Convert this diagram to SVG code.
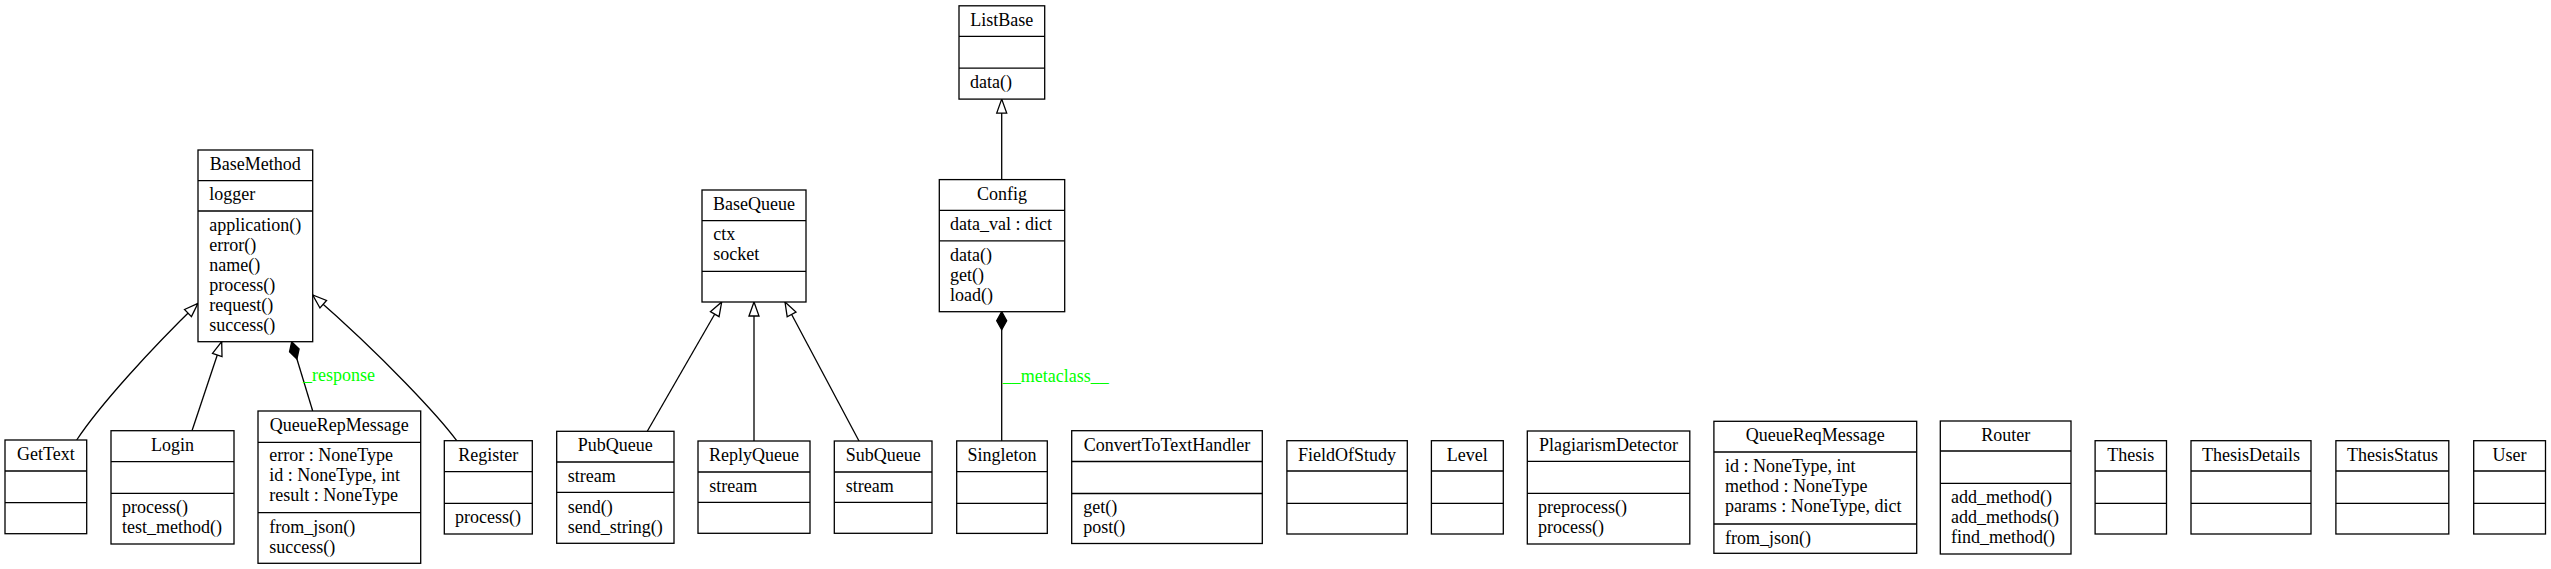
<svg xmlns="http://www.w3.org/2000/svg" width="2551" height="569" viewBox="0 0 2551 569">
<style>
rect.box{fill:#fff;stroke:#000;stroke-width:1.3}
line.sep{stroke:#000;stroke-width:1.3}
text{font-family:"Liberation Serif","Times New Roman",serif;font-size:18px;fill:#000}
text.t{text-anchor:middle}
text.lbl{fill:#00ff00}
.edge{fill:none;stroke:#000;stroke-width:1.3}
</style>
<defs>
<marker id="inh" markerUnits="userSpaceOnUse" markerWidth="16" markerHeight="12" refX="14" refY="5" orient="auto" overflow="visible">
<path d="M0,0 L14,5 L0,10 z" fill="#fff" stroke="#000" stroke-width="1.3"/>
</marker>
<marker id="comp" markerUnits="userSpaceOnUse" markerWidth="20" markerHeight="12" refX="18" refY="5" orient="auto" overflow="visible">
<path d="M0,5 L9,0 L18,5 L9,10 z" fill="#000" stroke="#000" stroke-width="1.3"/>
</marker>
</defs>
<rect width="2551" height="569" fill="#fff"/>
<g id="connectors">
<path class="edge" d="M76.7,440 C100,405 150,350 198,303.3" marker-end="url(#inh)"/>
<path class="edge" d="M192,430.7 L221.7,341.7" marker-end="url(#inh)"/>
<path class="edge" d="M312.7,411 L291.7,341.7" marker-end="url(#comp)"/>
<path class="edge" d="M456.7,440.7 C440,418 385,358 312.7,295" marker-end="url(#inh)"/>
<path class="edge" d="M647.3,431.3 L721.7,302" marker-end="url(#inh)"/>
<path class="edge" d="M754,441 L754,302" marker-end="url(#inh)"/>
<path class="edge" d="M859,441 L785,302" marker-end="url(#inh)"/>
<path class="edge" d="M1001.7,179.6 L1001.7,99.1" marker-end="url(#inh)"/>
<path class="edge" d="M1001.7,440.9 L1001.7,311.7" marker-end="url(#comp)"/>
<text class="lbl" x="303" y="380.7">_response</text>
<text class="lbl" x="1002.7" y="381.7">__metaclass__</text>
</g>
<g id="BaseMethod">
<rect class="box" x="198" y="150" width="114.7" height="191.7"/>
<line class="sep" x1="198" y1="180.7" x2="312.7" y2="180.7"/>
<line class="sep" x1="198" y1="211" x2="312.7" y2="211"/>
<text class="t" x="255.3" y="170">BaseMethod</text>
<text x="209.3" y="200">logger</text>
<text x="209.3" y="231">application()</text>
<text x="209.3" y="251">error()</text>
<text x="209.3" y="271">name()</text>
<text x="209.3" y="291">process()</text>
<text x="209.3" y="311">request()</text>
<text x="209.3" y="331">success()</text>
</g>
<g id="GetText">
<rect class="box" x="5" y="440" width="81.7" height="93.7"/>
<line class="sep" x1="5" y1="471" x2="86.7" y2="471"/>
<line class="sep" x1="5" y1="502.7" x2="86.7" y2="502.7"/>
<text class="t" x="45.8" y="460">GetText</text>
</g>
<g id="Login">
<rect class="box" x="111" y="430.7" width="123" height="113.3"/>
<line class="sep" x1="111" y1="461.7" x2="234" y2="461.7"/>
<line class="sep" x1="111" y1="493.3" x2="234" y2="493.3"/>
<text class="t" x="172.5" y="450.7">Login</text>
<text x="122" y="513">process()</text>
<text x="122" y="533">test_method()</text>
</g>
<g id="QueueRepMessage">
<rect class="box" x="258" y="411" width="162.7" height="152.3"/>
<line class="sep" x1="258" y1="442.3" x2="420.7" y2="442.3"/>
<line class="sep" x1="258" y1="512.7" x2="420.7" y2="512.7"/>
<text class="t" x="339.3" y="431">QueueRepMessage</text>
<text x="269.3" y="461">error : NoneType</text>
<text x="269.3" y="481">id : NoneType, int</text>
<text x="269.3" y="501">result : NoneType</text>
<text x="269.3" y="533">from_json()</text>
<text x="269.3" y="553">success()</text>
</g>
<g id="Register">
<rect class="box" x="444.3" y="440.7" width="88" height="93.3"/>
<line class="sep" x1="444.3" y1="471.7" x2="532.3" y2="471.7"/>
<line class="sep" x1="444.3" y1="503.3" x2="532.3" y2="503.3"/>
<text class="t" x="488.3" y="460.7">Register</text>
<text x="455" y="523">process()</text>
</g>
<g id="BaseQueue">
<rect class="box" x="702" y="190" width="104" height="112"/>
<line class="sep" x1="702" y1="220.7" x2="806" y2="220.7"/>
<line class="sep" x1="702" y1="271.3" x2="806" y2="271.3"/>
<text class="t" x="754" y="210">BaseQueue</text>
<text x="713.3" y="240">ctx</text>
<text x="713.3" y="260">socket</text>
</g>
<g id="PubQueue">
<rect class="box" x="556.7" y="431.3" width="117.3" height="112"/>
<line class="sep" x1="556.7" y1="462" x2="674" y2="462"/>
<line class="sep" x1="556.7" y1="492.3" x2="674" y2="492.3"/>
<text class="t" x="615.3" y="451.3">PubQueue</text>
<text x="567.7" y="482">stream</text>
<text x="567.7" y="512.5">send()</text>
<text x="567.7" y="532.5">send_string()</text>
</g>
<g id="ReplyQueue">
<rect class="box" x="698" y="441" width="112" height="92.3"/>
<line class="sep" x1="698" y1="472" x2="810" y2="472"/>
<line class="sep" x1="698" y1="502.3" x2="810" y2="502.3"/>
<text class="t" x="754" y="461">ReplyQueue</text>
<text x="709.3" y="492">stream</text>
</g>
<g id="SubQueue">
<rect class="box" x="834.3" y="441" width="97.7" height="92.3"/>
<line class="sep" x1="834.3" y1="472" x2="932" y2="472"/>
<line class="sep" x1="834.3" y1="502.3" x2="932" y2="502.3"/>
<text class="t" x="883.2" y="461">SubQueue</text>
<text x="845.7" y="492">stream</text>
</g>
<g id="ListBase">
<rect class="box" x="959" y="5.8" width="85.7" height="93.3"/>
<line class="sep" x1="959" y1="36.3" x2="1044.7" y2="36.3"/>
<line class="sep" x1="959" y1="68.2" x2="1044.7" y2="68.2"/>
<text class="t" x="1001.8" y="25.8">ListBase</text>
<text x="970" y="88">data()</text>
</g>
<g id="Config">
<rect class="box" x="939.3" y="179.6" width="125.4" height="132.1"/>
<line class="sep" x1="939.3" y1="210.4" x2="1064.7" y2="210.4"/>
<line class="sep" x1="939.3" y1="240.9" x2="1064.7" y2="240.9"/>
<text class="t" x="1002" y="199.6">Config</text>
<text x="950" y="230.4">data_val : dict</text>
<text x="950" y="261">data()</text>
<text x="950" y="281">get()</text>
<text x="950" y="301">load()</text>
</g>
<g id="Singleton">
<rect class="box" x="956.7" y="440.9" width="90.6" height="92.5"/>
<line class="sep" x1="956.7" y1="471.7" x2="1047.3" y2="471.7"/>
<line class="sep" x1="956.7" y1="503.3" x2="1047.3" y2="503.3"/>
<text class="t" x="1002" y="460.9">Singleton</text>
</g>
<g id="ConvertToTextHandler">
<rect class="box" x="1071.7" y="430.7" width="190.6" height="112.8"/>
<line class="sep" x1="1071.7" y1="461.5" x2="1262.3" y2="461.5"/>
<line class="sep" x1="1071.7" y1="493.5" x2="1262.3" y2="493.5"/>
<text class="t" x="1167" y="450.7">ConvertToTextHandler</text>
<text x="1083.3" y="513.4">get()</text>
<text x="1083.3" y="533.4">post()</text>
</g>
<g id="FieldOfStudy">
<rect class="box" x="1286.9" y="440.7" width="120.4" height="93.3"/>
<line class="sep" x1="1286.9" y1="471" x2="1407.3" y2="471"/>
<line class="sep" x1="1286.9" y1="503.3" x2="1407.3" y2="503.3"/>
<text class="t" x="1347.1" y="460.7">FieldOfStudy</text>
</g>
<g id="Level">
<rect class="box" x="1431.4" y="440.7" width="71.9" height="93.3"/>
<line class="sep" x1="1431.4" y1="471" x2="1503.3" y2="471"/>
<line class="sep" x1="1431.4" y1="503.3" x2="1503.3" y2="503.3"/>
<text class="t" x="1467.3" y="460.7">Level</text>
</g>
<g id="PlagiarismDetector">
<rect class="box" x="1527.3" y="431" width="162.5" height="113"/>
<line class="sep" x1="1527.3" y1="461.3" x2="1689.8" y2="461.3"/>
<line class="sep" x1="1527.3" y1="493.3" x2="1689.8" y2="493.3"/>
<text class="t" x="1608.5" y="451">PlagiarismDetector</text>
<text x="1538" y="513.3">preprocess()</text>
<text x="1538" y="533.3">process()</text>
</g>
<g id="QueueReqMessage">
<rect class="box" x="1713.9" y="421.3" width="202.8" height="132"/>
<line class="sep" x1="1713.9" y1="452" x2="1916.7" y2="452"/>
<line class="sep" x1="1713.9" y1="524" x2="1916.7" y2="524"/>
<text class="t" x="1815.3" y="441.3">QueueReqMessage</text>
<text x="1724.9" y="471.7">id : NoneType, int</text>
<text x="1724.9" y="491.7">method : NoneType</text>
<text x="1724.9" y="511.7">params : NoneType, dict</text>
<text x="1724.9" y="543.7">from_json()</text>
</g>
<g id="Router">
<rect class="box" x="1940.3" y="421" width="130.7" height="133"/>
<line class="sep" x1="1940.3" y1="451" x2="2071" y2="451"/>
<line class="sep" x1="1940.3" y1="483.3" x2="2071" y2="483.3"/>
<text class="t" x="2005.7" y="441">Router</text>
<text x="1951" y="503.3">add_method()</text>
<text x="1951" y="523.3">add_methods()</text>
<text x="1951" y="543.3">find_method()</text>
</g>
<g id="Thesis">
<rect class="box" x="2095.1" y="440.7" width="71.4" height="93.3"/>
<line class="sep" x1="2095.1" y1="471" x2="2166.5" y2="471"/>
<line class="sep" x1="2095.1" y1="503.3" x2="2166.5" y2="503.3"/>
<text class="t" x="2130.8" y="460.7">Thesis</text>
</g>
<g id="ThesisDetails">
<rect class="box" x="2191" y="440.7" width="120" height="93.3"/>
<line class="sep" x1="2191" y1="471" x2="2311" y2="471"/>
<line class="sep" x1="2191" y1="503.3" x2="2311" y2="503.3"/>
<text class="t" x="2251" y="460.7">ThesisDetails</text>
</g>
<g id="ThesisStatus">
<rect class="box" x="2335.9" y="440.7" width="112.9" height="93.3"/>
<line class="sep" x1="2335.9" y1="471" x2="2448.8" y2="471"/>
<line class="sep" x1="2335.9" y1="503.3" x2="2448.8" y2="503.3"/>
<text class="t" x="2392.4" y="460.7">ThesisStatus</text>
</g>
<g id="User">
<rect class="box" x="2473.7" y="440.7" width="71.8" height="93.3"/>
<line class="sep" x1="2473.7" y1="471" x2="2545.5" y2="471"/>
<line class="sep" x1="2473.7" y1="503.3" x2="2545.5" y2="503.3"/>
<text class="t" x="2509.6" y="460.7">User</text>
</g>
</svg>
